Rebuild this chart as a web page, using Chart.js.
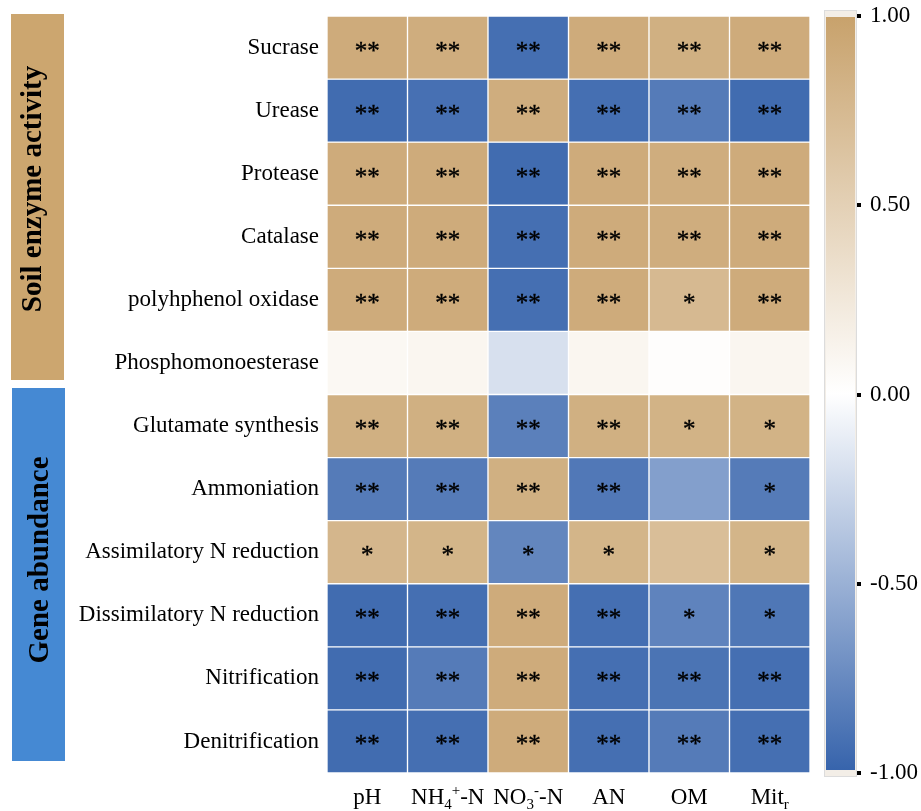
<!DOCTYPE html>
<html>
<head>
<meta charset="utf-8">
<script src="https://cdn.jsdelivr.net/npm/chart.js@4.4.1/dist/chart.umd.min.js"></script>
<style>
  html, body { margin: 0; padding: 0; background: #ffffff; }
  #wrap { width: 921px; height: 811px; }
</style>
</head>
<body>
<div id="wrap"><canvas id="heat" width="921" height="811"></canvas></div>
<script>
// Response variables (rows, top to bottom)
const rowLabels = [
  'Sucrase', 'Urease', 'Protease', 'Catalase', 'polyhphenol oxidase',
  'Phosphomonoesterase', 'Glutamate synthesis', 'Ammoniation',
  'Assimilatory N reduction', 'Dissimilatory N reduction',
  'Nitrification', 'Denitrification'
];

// Soil properties (columns)
const colLabels = ['pH', 'NH₄⁺-N', 'NO₃⁻-N', 'AN', 'OM', 'Mitᵣ'];

// Pearson correlation coefficients, one row per response variable
const sucrase        = [ 0.90,  0.88, -0.93,  0.90,  0.85,  0.90];
const urease         = [-0.95, -0.92,  0.88, -0.93, -0.85, -0.95];
const protease       = [ 0.90,  0.90, -0.95,  0.90,  0.88,  0.90];
const catalase       = [ 0.90,  0.90, -0.93,  0.90,  0.88,  0.90];
const polyphenolOx   = [ 0.90,  0.90, -0.93,  0.90,  0.75,  0.90];
const phosphomono    = [ 0.08,  0.10, -0.20,  0.10,  0.02,  0.10];
const glutamate      = [ 0.85,  0.85, -0.82,  0.85,  0.82,  0.82];
const ammoniation    = [-0.85, -0.85,  0.85, -0.87, -0.62, -0.85];
const assimilatory   = [ 0.78,  0.80, -0.78,  0.80,  0.70,  0.80];
const dissimilatory  = [-0.95, -0.93,  0.90, -0.93, -0.80, -0.88];
const nitrification  = [-0.95, -0.85,  0.90, -0.93, -0.90, -0.93];
const denitrification= [-0.95, -0.93,  0.90, -0.93, -0.85, -0.93];

const correlations = [
  sucrase, urease, protease, catalase, polyphenolOx, phosphomono,
  glutamate, ammoniation, assimilatory, dissimilatory, nitrification, denitrification
];

// Significance marks (* P<0.05, ** P<0.01)
const significance = [
  ['**', '**', '**', '**', '**', '**'],
  ['**', '**', '**', '**', '**', '**'],
  ['**', '**', '**', '**', '**', '**'],
  ['**', '**', '**', '**', '**', '**'],
  ['**', '**', '**', '**', '*',  '**'],
  ['',   '',   '',   '',   '',   ''  ],
  ['**', '**', '**', '**', '*',  '*' ],
  ['**', '**', '**', '**', '',   '*' ],
  ['*',  '*',  '*',  '*',  '',   '*' ],
  ['**', '**', '**', '**', '*',  '*' ],
  ['**', '**', '**', '**', '**', '**'],
  ['**', '**', '**', '**', '**', '**']
];

// Colour-bar tick values
const colorTicks = [1, 0.5, 0, -0.5, -1];

// Row group captions on the left
const groupLabels = ['Soil enzyme activity', 'Gene abundance'];

// ---- colour scale: blue (-1) -> white (0) -> tan (+1)
const NEG = [55, 100, 172];
const MID = [255, 255, 255];
const POS = [200, 162, 108];
function colorFor(v) {
  const t = Math.max(-1, Math.min(1, v));
  const end = t >= 0 ? POS : NEG;
  const a = Math.abs(t);
  const c = MID.map((m, k) => Math.round(m + (end[k] - m) * a));
  return `rgb(${c[0]},${c[1]},${c[2]})`;
}

const SERIF = '"Liberation Serif", "Times New Roman", serif';

// One floating-bar dataset per row; each bar spans [row, row + 1]
const datasets = rowLabels.map((name, i) => ({
  label: name,
  data: colLabels.map(() => [i, i + 1]),
  backgroundColor: correlations[i].map(colorFor),
  borderColor: '#ffffff',
  borderWidth: 1,
  borderSkipped: false,
  grouped: false,
  barPercentage: 1,
  categoryPercentage: 1
}));

// Left-hand group boxes with rotated captions
const groupBoxes = {
  id: 'groupBoxes',
  beforeDraw(chart, args, opts) {
    const ctx = chart.ctx;
    ctx.save();
    opts.boxes.forEach((b, k) => {
      ctx.fillStyle = b.color;
      ctx.fillRect(b.x, b.y, b.w, b.h);
      ctx.save();
      ctx.translate(b.textX, b.textY);
      ctx.rotate(-Math.PI / 2);
      ctx.font = 'bold 29px ' + SERIF;
      ctx.fillStyle = '#000';
      ctx.textAlign = 'center';
      ctx.textBaseline = 'alphabetic';
      ctx.fillText(groupLabels[k], 0, 0);
      ctx.restore();
    });
    ctx.restore();
  }
};

// Significance asterisks centred in each cell
const starMarks = {
  id: 'starMarks',
  afterDatasetsDraw(chart) {
    const ctx = chart.ctx;
    ctx.save();
    ctx.font = '25px ' + SERIF;
    ctx.fillStyle = '#000';
    ctx.strokeStyle = '#000';
    ctx.lineWidth = 0.4;
    ctx.textAlign = 'center';
    ctx.textBaseline = 'alphabetic';
    chart.data.datasets.forEach((ds, i) => {
      chart.getDatasetMeta(i).data.forEach((bar, j) => {
        const s = significance[i][j];
        if (!s) return;
        const p = bar.getProps(['x', 'y', 'base'], true);
        const cy = (p.y + p.base) / 2;
        ctx.fillText(s, p.x, cy + 11);
        ctx.strokeText(s, p.x, cy + 11);
      });
    });
    ctx.restore();
  }
};

// Column labels with sub/superscripts
const SUB = { '₀':'0','₁':'1','₂':'2','₃':'3','₄':'4','₅':'5','₆':'6','₇':'7','₈':'8','₉':'9','ᵣ':'r' };
const SUP = { '⁺':'+', '⁻':'-' };
const richLabels = {
  id: 'richLabels',
  afterDraw(chart) {
    const ctx = chart.ctx;
    const xs = chart.scales.x;
    const baseY = chart.chartArea.bottom + 31;
    const big = '23px ' + SERIF, small = '15px ' + SERIF;
    ctx.save();
    ctx.fillStyle = '#000';
    ctx.textBaseline = 'alphabetic';
    ctx.textAlign = 'left';
    colLabels.forEach((lab, j) => {
      const parts = [...lab].map(ch => {
        if (SUB[ch]) return { t: SUB[ch], f: small, dy: 5 };
        if (SUP[ch]) return { t: SUP[ch], f: small, dy: -9 };
        return { t: ch, f: big, dy: 0 };
      });
      let total = 0;
      parts.forEach(p => { ctx.font = p.f; p.w = ctx.measureText(p.t).width; total += p.w; });
      let x = xs.getPixelForValue(j) - total / 2;
      parts.forEach(p => { ctx.font = p.f; ctx.fillText(p.t, x, baseY + p.dy); x += p.w; });
    });
    ctx.restore();
  }
};

// Colour bar drawn along the right-hand axis
const colorBar = {
  id: 'colorBar',
  afterDraw(chart) {
    const ctx = chart.ctx;
    const cb = chart.scales.cb;
    const yTop = cb.getPixelForValue(1);
    const yBot = cb.getPixelForValue(-1);
    const x0 = cb.left + 16, w = 29;
    ctx.save();
    ctx.fillStyle = '#f3eee7';
    ctx.fillRect(x0 - 1, yTop - 5, w + 2, yBot - yTop + 8);
    ctx.strokeStyle = '#dcdcdc';
    ctx.lineWidth = 1;
    ctx.strokeRect(x0 - 1.5, yTop - 5.5, w + 3, yBot - yTop + 9);
    const g = ctx.createLinearGradient(0, yTop + 1, 0, yBot - 3);
    g.addColorStop(0, colorFor(1));
    g.addColorStop(0.5, colorFor(0));
    g.addColorStop(1, colorFor(-1));
    ctx.fillStyle = g;
    ctx.fillRect(x0, yTop + 1, w, yBot - yTop - 4);
    ctx.fillStyle = '#000';
    colorTicks.forEach(v => {
      const y = cb.getPixelForValue(v);
      ctx.fillRect(x0 + w + 2, Math.round(y) - 2, 4, 4);
    });
    ctx.restore();
  }
};

new Chart(document.getElementById('heat'), {
  type: 'bar',
  data: { labels: colLabels, datasets },
  options: {
    responsive: false,
    devicePixelRatio: 1,
    animation: false,
    layout: { padding: { top: 16, left: 0, right: 0, bottom: 0 } },
    plugins: {
      legend: { display: false },
      tooltip: { enabled: false },
      groupBoxes: {
        boxes: [
          { color: '#cca66f', x: 11, y: 14, w: 53, h: 366, textX: 41, textY: 189 },
          { color: '#4589d3', x: 12, y: 388, w: 53, h: 373, textX: 48, textY: 560 }
        ]
      }
    },
    scales: {
      x: {
        type: 'category',
        offset: true,
        grid: { display: false },
        border: { display: false },
        ticks: { display: false },
        afterFit(s) { s.height = 38; }
      },
      y: {
        type: 'linear',
        position: 'left',
        min: 0,
        max: rowLabels.length,
        reverse: true,
        border: { display: false },
        grid: { display: true, drawOnChartArea: false, drawTicks: true, tickLength: 8, color: 'rgba(0,0,0,0)' },
        afterBuildTicks(s) { s.ticks = rowLabels.map((_, i) => ({ value: i + 0.5 })); },
        ticks: {
          padding: 0,
          autoSkip: false,
          color: '#000',
          font: { family: SERIF, size: 23 },
          callback: (v, idx) => rowLabels[idx]
        },
        afterFit(s) { s.width = 327; }
      },
      cb: {
        type: 'linear',
        position: 'right',
        min: -1,
        max: 1,
        border: { display: false },
        grid: { display: true, drawOnChartArea: false, drawTicks: true, tickLength: 60, color: 'rgba(0,0,0,0)' },
        afterBuildTicks(s) { s.ticks = colorTicks.map(v => ({ value: v })); },
        ticks: {
          padding: 0,
          autoSkip: false,
          color: '#000',
          font: { family: SERIF, size: 23 },
          callback: v => Number(v).toFixed(2)
        },
        afterFit(s) { s.width = 111; }
      }
    }
  },
  plugins: [groupBoxes, starMarks, richLabels, colorBar]
});
</script>
</body>
</html>
